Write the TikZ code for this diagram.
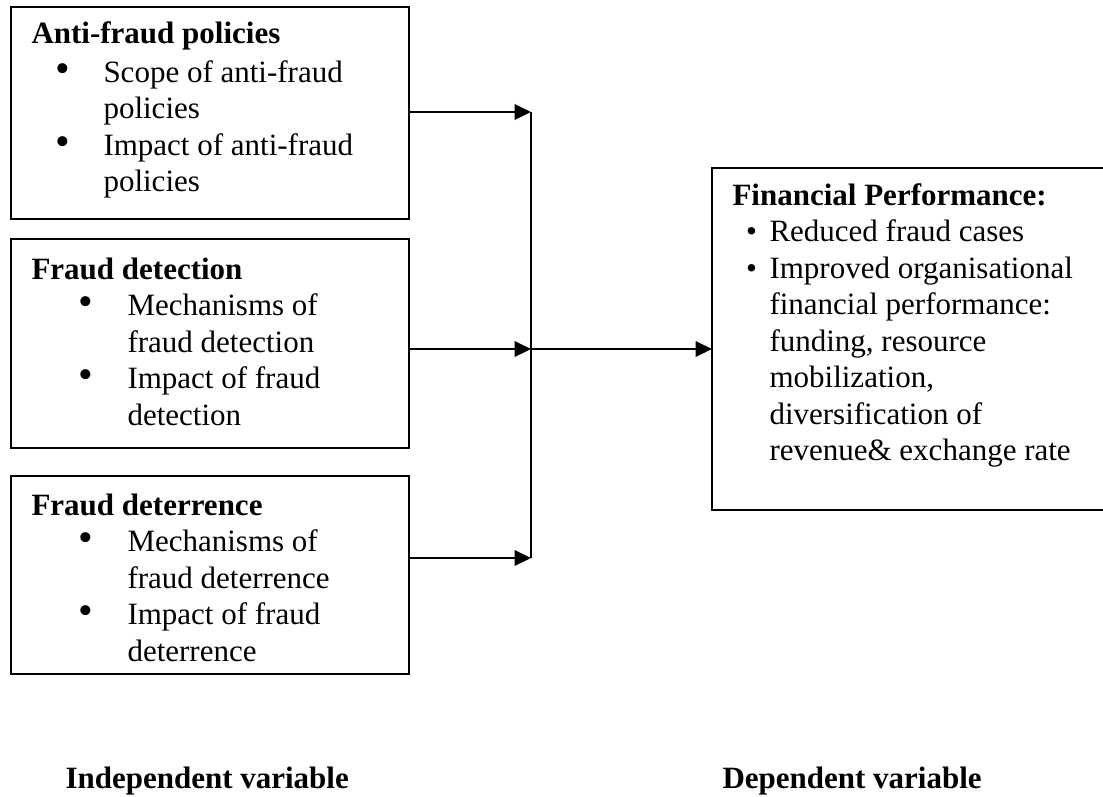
\documentclass[tikz,border=0pt]{standalone}
\usepackage{fontspec}
\setmainfont{Liberation Serif}
\usetikzlibrary{arrows.meta,positioning}

% bullet (scaled by #1) centred at #2, item text starting at #3
\newcommand{\bul}[3][1]{\makebox[#3][l]{\hspace*{#2}\makebox[0pt]{\scalebox{#1}{\textbullet}}}}

\begin{document}
\begin{tikzpicture}[
  x=0.4pt, y=-0.4pt,
  varbox/.style = {rectangle, draw=black, line width=0.8pt, inner xsep=8.2pt,
                   inner ysep=0pt, outer sep=0pt, anchor=north west,
                   font=\fontsize{12.4}{14.6}\selectfont},
  lbl/.style    = {anchor=base west, inner sep=0pt,
                   font=\fontsize{12.4}{14.6}\selectfont\bfseries},
  arr/.style    = {-{Triangle[length=6.6pt, width=6.2pt]}, line width=0.8pt}
]
\path[use as bounding box, clip] (0,0) rectangle (1103,796);

\node[varbox] (policies) at (11,7) {\parbox[t][84.8pt][t]{142.8pt}{%
  \rule{0pt}{14.4pt}\textbf{Anti-fraud policies}\\[1pt]
  \bul[1.35]{12.4pt}{28.8pt}Scope of anti-fraud\\
  \hspace*{28.8pt}policies\\
  \bul[1.35]{12.4pt}{28.8pt}Impact of anti-fraud\\
  \hspace*{28.8pt}policies}};
\node[varbox] (detection) at (11,239) {\parbox[t][83.6pt][t]{142.8pt}{%
  \rule{0pt}{16pt}\textbf{Fraud detection}\\
  \bul[1.35]{21.6pt}{38.4pt}Mechanisms of\\
  \hspace*{38.4pt}fraud detection\\
  \bul[1.35]{21.6pt}{38.4pt}Impact of fraud\\
  \hspace*{38.4pt}detection}};
\node[varbox] (deterrence) at (11,476) {\parbox[t][79.2pt][t]{142.8pt}{%
  \rule{0pt}{15.6pt}\textbf{Fraud deterrence}\\
  \bul[1.35]{21.6pt}{38.4pt}Mechanisms of\\
  \hspace*{38.4pt}fraud deterrence\\
  \bul[1.35]{21.6pt}{38.4pt}Impact of fraud\\
  \hspace*{38.4pt}deterrence}};
\node[varbox] (perf) at (712,168) {\parbox[t][136.8pt][t]{142pt}{%
  \rule{0pt}{14.8pt}\textbf{Financial Performance:}\\
  \bul{7.6pt}{14.8pt}Reduced fraud cases\\
  \bul{7.6pt}{14.8pt}Improved organisational\\
  \hspace*{14.8pt}financial performance:\\
  \hspace*{14.8pt}funding, resource\\
  \hspace*{14.8pt}mobilization,\\
  \hspace*{14.8pt}diversification of\\
  \hspace*{14.8pt}revenue\& exchange rate}};

\coordinate (j1) at (531,112);
\coordinate (j2) at (531,349);
\coordinate (j3) at (531,558);

\draw[arr] (policies.east |- j1)   -- (j1);
\draw[arr] (detection.east |- j2)  -- (j2);
\draw[arr] (deterrence.east |- j3) -- (j3);
\draw[line width=0.8pt] (j1) -- (j3);
\draw[arr] (j2) -- (perf.west |- j2);

\node[lbl] (indep) at (65,788)  {Independent variable};
\node[lbl] (dep)   at (722,788) {Dependent variable};
\end{tikzpicture}
\end{document}
